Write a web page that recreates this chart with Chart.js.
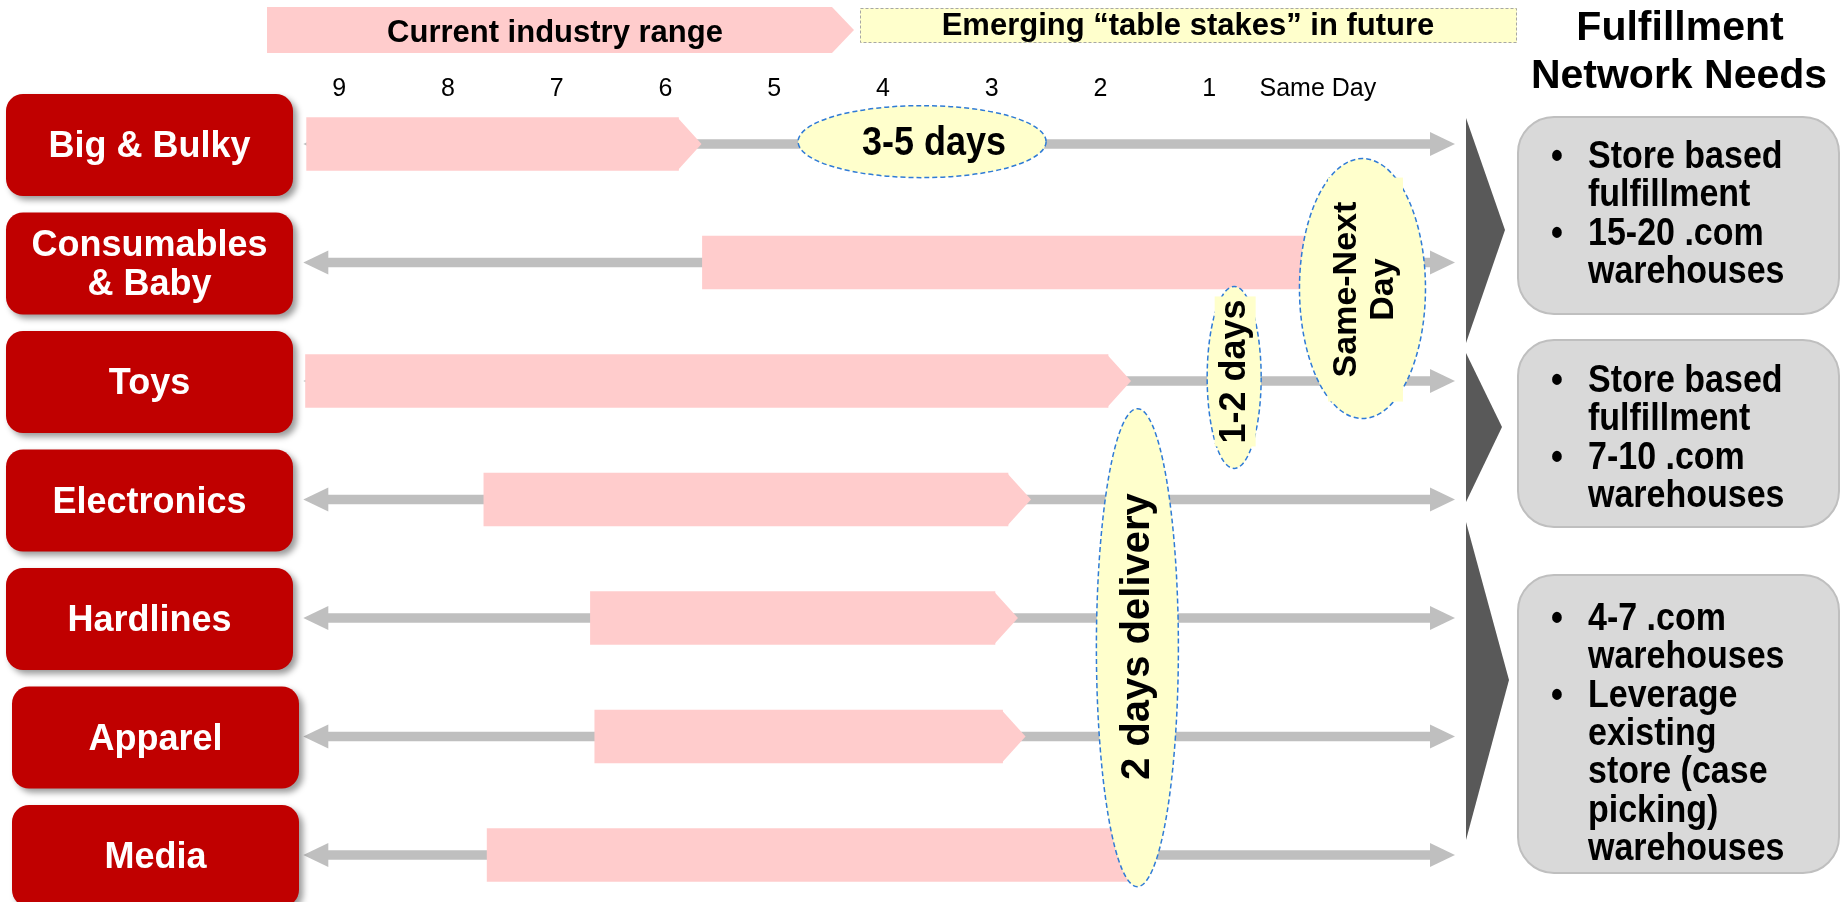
<!DOCTYPE html>
<html>
<head>
<meta charset="utf-8">
<title>Delivery speed by category</title>
<script src="https://cdn.jsdelivr.net/npm/chart.js@4.4.0/dist/chart.umd.min.js"></script>
<style>
  html, body { margin: 0; padding: 0; background: #ffffff; }
  #wrap { width: 1841px; height: 902px; }
</style>
</head>
<body>
<div id="wrap"><canvas id="deliveryChart" width="1841" height="902"></canvas></div>
<script>
// rows, top to bottom
var categories = [["Big & Bulky"], ["Consumables", "& Baby"], ["Toys"], ["Electronics"], ["Hardlines"], ["Apparel"], ["Media"]];

// current industry range in days (pink bar, the point is added after rangeTo)
var rangeFrom = [9.30, 5.66, 9.31, 7.67, 6.69, 6.65, 7.64];
var rangeTo   = [5.88, 0.10, 1.93, 2.85, 2.97, 2.90, 1.70];

// grey timeline shaft, arrow heads sit outside both ends
var lineFrom = [9.11, 9.11, 9.11, 9.11, 9.11, 9.11, 9.11];
var lineTo   = [-1.04, -1.04, -1.04, -1.04, -1.04, -1.04, -1.04];

// day axis
var tickValues = [9, 8, 7, 6, 5, 4, 3, 2, 1, 0];
var tickLabels = ["9", "8", "7", "6", "5", "4", "3", "2", "1", "Same Day"];

// "table stakes" callouts: text, centre on the day axis, centre on the row axis
var calloutText = [["3-5 days"], ["Same-Next", "Day"], ["1-2 days"], ["2 days delivery"]];
var calloutDay  = [3.64, -0.41, 0.77, 1.66];
var calloutRow  = [-0.02, 1.22, 1.97, 4.25];

// fulfillment network needs, one list of bullets per group
var needs = [
  [["Store based", "fulfillment"], ["15-20 .com", "warehouses"]],
  [["Store based", "fulfillment"], ["7-10 .com", "warehouses"]],
  [["4-7 .com", "warehouses"], ["Leverage", "existing", "store (case", "picking)", "warehouses"]]
];

var FONT = "'Liberation Sans', Arial, Helvetica, sans-serif";
Chart.defaults.font.family = FONT;

var calloutStyle = [
  { rx: 124, ry: 36, turn: false, size: 36, lead: 40, sy: 1.15, dx: 12, dy: 2 },
  { rx: 63, ry: 130, turn: true, size: 34, lead: 37, sy: 1, dx: 3, dy: 1, pad: [224, 75] },
  { rx: 27, ry: 91, turn: true, size: 36, lead: 40, sy: 1, dx: 1, dy: -6, pad: [150, 41] },
  { rx: 41, ry: 239, turn: true, size: 40, lead: 44, sy: 1, dx: 1, dy: -11 }
];

var needsBoxes = [
  { top: 117, bottom: 314, baseline: 168, tri: [118, 1505, 230, 343] },
  { top: 340, bottom: 527, baseline: 392, tri: [353, 1502, 427, 502] },
  { top: 575, bottom: 873, baseline: 630, tri: [522, 1509, 680, 840] }
];

function roundRect(ctx, x, y, w, h, r) {
  ctx.beginPath();
  ctx.moveTo(x + r, y);
  ctx.arcTo(x + w, y, x + w, y + h, r);
  ctx.arcTo(x + w, y + h, x, y + h, r);
  ctx.arcTo(x, y + h, x, y, r);
  ctx.arcTo(x, y, x + w, y, r);
  ctx.closePath();
}

function scaledText(ctx, text, x, y, sy) {
  ctx.save();
  ctx.translate(x, y);
  ctx.scale(1, sy);
  ctx.fillText(text, 0, 0);
  ctx.restore();
}

function head(ctx, px, py, dir, len, half) {
  ctx.beginPath();
  ctx.moveTo(px - dir, py - half);
  ctx.lineTo(px + dir * len, py);
  ctx.lineTo(px - dir, py + half);
  ctx.closePath();
  ctx.fill();
}

// arrow points on the pink bars and heads on the grey lines
var arrowPlugin = {
  id: "arrowPlugin",
  afterDatasetDraw: function (chart, args) {
    var ctx = chart.ctx;
    var xs = chart.scales.x;
    var ds = chart.data.datasets[args.index];
    ctx.save();
    ctx.fillStyle = ds.backgroundColor;
    args.meta.data.forEach(function (bar, i) {
      if (ds.label === "range") {
        var a = xs.getPixelForValue(rangeFrom[i]);
        var b = xs.getPixelForValue(rangeTo[i]);
        head(ctx, b, bar.y, b > a ? 1 : -1, 23, bar.height / 2);
      } else {
        var p = xs.getPixelForValue(lineFrom[i]);
        var q = xs.getPixelForValue(lineTo[i]);
        var d = q > p ? 1 : -1;
        head(ctx, q, bar.y, d, 24, 12);
        head(ctx, p, bar.y, -d, 24, 12);
      }
    });
    ctx.restore();
  }
};

function drawCallouts(ctx, xs, ys) {
  calloutText.forEach(function (lines, i) {
    var st = calloutStyle[i];
    var cx = xs.getPixelForValue(calloutDay[i]);
    var cy = ys.getPixelForValue(calloutRow[i]);
    ctx.save();
    ctx.beginPath();
    ctx.ellipse(cx, cy, st.rx, st.ry, 0, 0, Math.PI * 2);
    ctx.fillStyle = "#FFFFCC";
    ctx.fill();
    ctx.setLineDash([5, 3]);
    ctx.lineWidth = 1.5;
    ctx.strokeStyle = "#2F7BD6";
    ctx.stroke();
    ctx.setLineDash([]);
    ctx.translate(cx + st.dx, cy + st.dy);
    if (st.turn) ctx.rotate(-Math.PI / 2);
    if (st.pad) {
      ctx.fillStyle = "#FFFFCC";
      ctx.fillRect(-st.pad[0] / 2, -st.pad[1] / 2, st.pad[0], st.pad[1]);
    }
    ctx.fillStyle = "#000000";
    ctx.font = "bold " + st.size + "px " + FONT;
    ctx.textAlign = "center";
    ctx.textBaseline = "middle";
    lines.forEach(function (t, j) {
      scaledText(ctx, t, 0, (j - (lines.length - 1) / 2) * st.lead, st.sy);
    });
    ctx.restore();
  });
}

function drawCategoryBoxes(ctx, ys) {
  categories.forEach(function (lines, i) {
    var cy = ys.getPixelForValue(i) + 1;
    var left = i < 5 ? 6 : 12;
    ctx.save();
    ctx.shadowColor = "rgba(0,0,0,0.4)";
    ctx.shadowBlur = 6;
    ctx.shadowOffsetX = 4;
    ctx.shadowOffsetY = 4;
    ctx.fillStyle = "#C00000";
    roundRect(ctx, left, cy - 51, 287, 102, 17);
    ctx.fill();
    ctx.restore();
    ctx.fillStyle = "#ffffff";
    ctx.font = "bold 36px " + FONT;
    ctx.textAlign = "center";
    ctx.textBaseline = "alphabetic";
    lines.forEach(function (t, j) {
      ctx.fillText(t, left + 143.5, cy + 12 + (j - (lines.length - 1) / 2) * 38.5);
    });
  });
}

function drawHeader(ctx) {
  // current industry range banner
  ctx.fillStyle = "#FFCCCC";
  ctx.beginPath();
  ctx.moveTo(267, 7);
  ctx.lineTo(832, 7);
  ctx.lineTo(854, 30);
  ctx.lineTo(832, 53);
  ctx.lineTo(267, 53);
  ctx.closePath();
  ctx.fill();
  // emerging box
  ctx.fillStyle = "#FFFFCC";
  ctx.fillRect(860, 8, 657, 35);
  ctx.setLineDash([3, 2]);
  ctx.lineWidth = 1;
  ctx.strokeStyle = "#A6A6A6";
  ctx.strokeRect(860.5, 8.5, 656, 34);
  ctx.setLineDash([]);

  ctx.fillStyle = "#000000";
  ctx.textAlign = "center";
  ctx.textBaseline = "alphabetic";
  ctx.font = "bold 31px " + FONT;
  ctx.fillText("Current industry range", 555, 42);
  ctx.fillText("Emerging \u201ctable stakes\u201d in future", 1188, 35);
  ctx.font = "bold 41px " + FONT;
  ctx.fillText("Fulfillment", 1680, 40);
  ctx.fillText("Network Needs", 1679, 88);
}

function drawNeeds(ctx) {
  needsBoxes.forEach(function (bx, g) {
    // dark pointer
    ctx.fillStyle = "#595959";
    ctx.beginPath();
    ctx.moveTo(1466, bx.tri[0]);
    ctx.lineTo(bx.tri[1], bx.tri[2]);
    ctx.lineTo(1466, bx.tri[3]);
    ctx.closePath();
    ctx.fill();
    // grey box
    roundRect(ctx, 1518, bx.top, 321, bx.bottom - bx.top, 36);
    ctx.fillStyle = "#D9D9D9";
    ctx.fill();
    ctx.lineWidth = 2;
    ctx.strokeStyle = "#BFBFBF";
    ctx.stroke();
    // bullets
    ctx.fillStyle = "#000000";
    ctx.font = "bold 34px " + FONT;
    ctx.textBaseline = "alphabetic";
    var y = bx.baseline;
    needs[g].forEach(function (item) {
      item.forEach(function (t, j) {
        if (j === 0) {
          ctx.textAlign = "center";
          scaledText(ctx, "\u2022", 1557, y, 1.13);
        }
        ctx.textAlign = "left";
        scaledText(ctx, t, 1588, y, 1.13);
        y += 38.3;
      });
    });
  });
}

var decorPlugin = {
  id: "decorPlugin",
  afterDatasetsDraw: function (chart) {
    var ctx = chart.ctx;
    ctx.save();
    drawCallouts(ctx, chart.scales.x, chart.scales.y);
    drawCategoryBoxes(ctx, chart.scales.y);
    drawHeader(ctx);
    drawNeeds(ctx);
    ctx.restore();
  }
};

var deliveryChart = new Chart(document.getElementById("deliveryChart").getContext("2d"), {
  type: "bar",
  data: {
    labels: categories,
    datasets: [
      {
        label: "range",
        data: rangeFrom.map(function (v, i) { return [v, rangeTo[i]]; }),
        backgroundColor: "#FFCCCC",
        borderWidth: 0,
        barThickness: 53,
        grouped: false,
        order: 1,
        clip: false
      },
      {
        label: "line",
        data: lineFrom.map(function (v, i) { return [v, lineTo[i]]; }),
        backgroundColor: "#BFBFBF",
        borderWidth: 0,
        barThickness: 9,
        grouped: false,
        order: 2,
        clip: false
      }
    ]
  },
  options: {
    indexAxis: "y",
    responsive: false,
    maintainAspectRatio: false,
    animation: false,
    devicePixelRatio: 1,
    events: [],
    layout: { padding: { left: 274, right: 360, top: 35, bottom: 47 } },
    plugins: {
      legend: { display: false },
      tooltip: { enabled: false }
    },
    scales: {
      x: {
        type: "linear",
        position: "top",
        reverse: true,
        min: -1.5,
        max: 9.6,
        grid: { display: false, drawTicks: false },
        border: { display: false },
        afterBuildTicks: function (scale) {
          scale.ticks = tickValues.map(function (v) { return { value: v }; });
        },
        ticks: {
          padding: 39.5,
          color: "#000000",
          autoSkip: false,
          maxRotation: 0,
          font: { size: 25 },
          callback: function (value) { return tickLabels[tickValues.indexOf(value)]; }
        }
      },
      y: {
        type: "category",
        offset: false,
        display: false
      }
    }
  },
  plugins: [arrowPlugin, decorPlugin]
});
</script>
</body>
</html>
